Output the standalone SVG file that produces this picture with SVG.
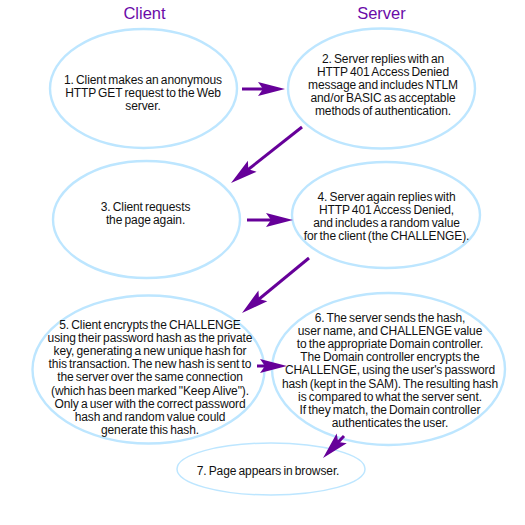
<svg xmlns="http://www.w3.org/2000/svg" width="525" height="525" viewBox="0 0 525 525">
<style>
.bg{fill:#ffffff}
.node ellipse{fill:#ffffff;stroke:#bde6ff;stroke-width:2.4}
.thin ellipse{stroke-width:1.5}
.node text{font-family:"Liberation Sans",Arial,sans-serif;font-size:12px;fill:#111111;text-anchor:middle;letter-spacing:-0.1px;word-spacing:-1px}
.title{font-family:"Liberation Sans",Arial,sans-serif;font-size:16.5px;fill:#6a0aa8;text-anchor:middle}
.conn line{stroke:#660099;stroke-width:3;marker-end:url(#ah)}
</style>
<defs>
<marker id="ah" markerUnits="userSpaceOnUse" markerWidth="30" markerHeight="16" refX="12" refY="8" orient="auto" overflow="visible">
<path d="M0,1 L27,8 L0,15 L5,8 Z" fill="#660099"/>
</marker>
</defs>
<rect class="bg" x="0" y="0" width="525" height="525"/>
<g id="titles">
<text class="title" x="144.5" y="18.5">Client</text>
<text class="title" x="381.5" y="18.5">Server</text>
</g>
<g id="n1" class="node">
<ellipse cx="143.5" cy="88.5" rx="93.5" ry="59.5"/>
<text x="143" y="84">1. Client makes an anonymous</text>
<text x="143" y="97">HTTP GET request to the Web</text>
<text x="143" y="110">server.</text>
</g>
<g id="n2" class="node">
<ellipse cx="381.5" cy="88.5" rx="93.5" ry="60"/>
<text x="383" y="63">2. Server replies with an</text>
<text x="383" y="76">HTTP 401 Access Denied</text>
<text x="383" y="89">message and includes NTLM</text>
<text x="383" y="102">and/or BASIC as acceptable</text>
<text x="383" y="115">methods of authentication.</text>
</g>
<g id="n3" class="node">
<ellipse cx="146.5" cy="219.5" rx="93.5" ry="58.5"/>
<text x="145.5" y="211">3. Client requests</text>
<text x="145.5" y="224">the page again.</text>
</g>
<g id="n4" class="node">
<ellipse cx="386" cy="215" rx="94" ry="53"/>
<text x="386.5" y="201">4. Server again replies with</text>
<text x="386.5" y="214">HTTP 401 Access Denied,</text>
<text x="386.5" y="227">and includes a random value</text>
<text x="386.5" y="240">for the client (the CHALLENGE).</text>
</g>
<g id="n5" class="node">
<ellipse cx="148.5" cy="369.5" rx="116" ry="74"/>
<text x="150" y="329">5. Client encrypts the CHALLENGE</text>
<text x="150" y="342.1">using their password hash as the private</text>
<text x="150" y="355.2">key, generating a new unique hash for</text>
<text x="150" y="368.3">this transaction. The new hash is sent to</text>
<text x="150" y="381.4">the server over the same connection</text>
<text x="150" y="394.5">(which has been marked "Keep Alive").</text>
<text x="150" y="407.6">Only a user with the correct password</text>
<text x="150" y="420.7">hash and random value could</text>
<text x="150" y="433.8">generate this hash.</text>
</g>
<g id="n6" class="node">
<ellipse cx="388.5" cy="369" rx="116.5" ry="76"/>
<text x="390" y="322">6. The server sends the hash,</text>
<text x="390" y="335.1">user name, and CHALLENGE value</text>
<text x="390" y="348.2">to the appropriate Domain controller.</text>
<text x="390" y="361.3">The Domain controller encrypts the</text>
<text x="390" y="374.4">CHALLENGE, using the user's password</text>
<text x="390" y="387.5">hash (kept in the SAM). The resulting hash</text>
<text x="390" y="400.6">is compared to what the server sent.</text>
<text x="390" y="413.7">If they match, the Domain controller</text>
<text x="390" y="426.8">authenticates the user.</text>
</g>
<g id="n7" class="node thin">
<ellipse cx="271" cy="469" rx="94" ry="26"/>
<text x="268" y="475">7. Page appears in browser.</text>
</g>
<g id="connectors" class="conn">
<line x1="242" y1="89" x2="270" y2="89"/>
<line x1="302" y1="127" x2="242.8" y2="173.7"/>
<line x1="247" y1="220" x2="278" y2="220"/>
<line x1="309" y1="258" x2="253.6" y2="303.5"/>
<line x1="257" y1="366" x2="272" y2="366"/>
<line x1="344" y1="436" x2="333.4" y2="447.1"/>
</g>
</svg>
